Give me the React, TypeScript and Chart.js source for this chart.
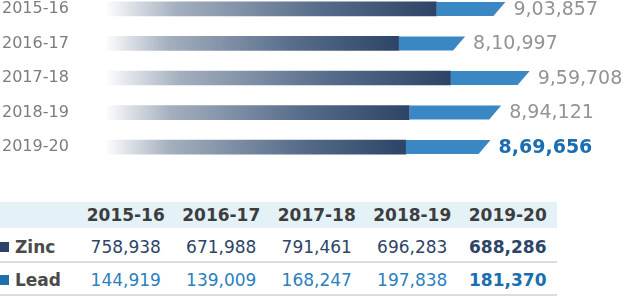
import React, { useEffect, useRef } from "react";
import { Chart, registerables } from "chart.js";

Chart.register(...registerables);

const categories = ["2015-16", "2016-17", "2017-18", "2018-19", "2019-20"];
const zincValues = [758938, 671988, 791461, 696283, 688286];
const leadValues = [144919, 139009, 168247, 197838, 181370];
const totalLabels = ["9,03,857", "8,10,997", "9,59,708", "8,94,121", "8,69,656"];
const zincLabels = ["758,938", "671,988", "791,461", "696,283", "688,286"];
const leadLabels = ["144,919", "139,009", "168,247", "197,838", "181,370"];

const FONT = "'DejaVu Sans', 'Noto Sans', sans-serif";
const ZINC_DARK = "#2e4466";
const LEAD_BLUE = "#3a87c4";
const HILITE_BLUE = "#1a6db0";

const leadShapePlugin = {
  id: "leadShape",
  afterDatasetsDraw(chart: any) {
    const ctx = chart.ctx;
    const meta = chart.getDatasetMeta(1);
    const slant = 6;
    meta.data.forEach((el: any, i: number) => {
      const p = el.getProps(["x", "y", "base", "height"], true);
      const top = p.y - p.height / 2;
      const bottom = p.y + p.height / 2;
      ctx.save();
      ctx.fillStyle = LEAD_BLUE;
      ctx.beginPath();
      ctx.moveTo(p.base, top);
      ctx.lineTo(p.x + slant, top);
      ctx.lineTo(p.x - slant, bottom);
      ctx.lineTo(p.base, bottom);
      ctx.closePath();
      ctx.fill();
      const last = i === totalLabels.length - 1;
      ctx.font = (last ? "bold " : "") + "19px " + FONT;
      ctx.fillStyle = last ? HILITE_BLUE : "#939393";
      ctx.textAlign = "left";
      ctx.textBaseline = "middle";
      ctx.fillText(totalLabels[i], p.x + slant + 8, p.y + 1);
      ctx.restore();
    });
  },
};

function BarChart() {
  const ref = useRef<HTMLCanvasElement | null>(null);
  useEffect(() => {
    if (!ref.current) return;
    const chart = new Chart(ref.current, {
      type: "bar",
      data: {
        labels: categories,
        datasets: [
          {
            label: "Zinc",
            data: zincValues,
            barThickness: 14,
            borderWidth: 0,
            backgroundColor: (c: any) => {
              const ch = c.chart;
              const area = ch.chartArea;
              const xs = ch.scales && ch.scales.x;
              if (!area || !xs || c.raw === undefined) return ZINC_DARK;
              const x0 = area.left - 3;
              const x1 = xs.getPixelForValue(c.raw);
              const g = ch.ctx.createLinearGradient(x0, 0, x1, 0);
              g.addColorStop(0, "rgba(255,255,255,1)");
              g.addColorStop(0.22, "#a3afbe");
              g.addColorStop(0.65, "#566c8a");
              g.addColorStop(1, ZINC_DARK);
              return g;
            },
          },
          {
            label: "Lead",
            data: leadValues,
            barThickness: 14,
            borderWidth: 0,
            backgroundColor: "rgba(0,0,0,0)",
          },
        ],
      },
      options: {
        animation: false,
        responsive: false,
        maintainAspectRatio: false,
        indexAxis: "y",
        layout: { padding: { left: 2, right: 0, top: 0, bottom: 0 } },
        plugins: { legend: { display: false }, tooltip: { enabled: false } },
        scales: {
          x: { stacked: true, min: 0, max: 1200000, display: false },
          y: {
            stacked: true,
            grid: { display: false },
            border: { display: false },
            ticks: {
              crossAlign: "far",
              color: "#7c7c7c",
              font: { family: FONT, size: 16 },
              padding: 0,
            },
            afterFit: (s: any) => {
              s.width = 105;
            },
          },
        },
      },
      plugins: [leadShapePlugin],
    } as any);
    return () => chart.destroy();
  }, []);
  return <canvas ref={ref} width={628} height={192} style={{ display: "block" }} />;
}

const colLeft = 78;
const colW = 95.5;

function Table() {
  const cell = (text: string, i: number, top: number, style: React.CSSProperties) => (
    <div
      key={text + i + top}
      style={{
        position: "absolute",
        left: colLeft + i * colW,
        width: colW,
        top,
        height: 26,
        lineHeight: "26px",
        textAlign: "center",
        ...style,
      }}
    >
      {text}
    </div>
  );
  return (
    <div style={{ position: "absolute", left: 0, top: 0, width: 628, height: 303, fontFamily: FONT }}>
      <div style={{ position: "absolute", left: 0, top: 202, width: 557, height: 26, background: "#e4f2f8" }} />
      {categories.map((c, i) => cell(c, i, 202, { fontWeight: 700, fontSize: 17, color: "#3d3d3d" }))}
      <div style={{ position: "absolute", left: 0, top: 242, width: 9, height: 10, background: ZINC_DARK }} />
      <div style={{ position: "absolute", left: 15, top: 234, height: 26, lineHeight: "26px", fontSize: 17, fontWeight: 600, color: "#4a4a4a" }}>Zinc</div>
      {zincLabels.map((v, i) =>
        cell(v, i, 234, { fontSize: 17, color: ZINC_DARK, fontWeight: i === 4 ? 700 : 400 })
      )}
      <div style={{ position: "absolute", left: 0, top: 261, width: 557, height: 2, background: "#dcdcdc" }} />
      <div style={{ position: "absolute", left: 0, top: 275, width: 9, height: 10, background: "#1f6fae" }} />
      <div style={{ position: "absolute", left: 15, top: 267, height: 26, lineHeight: "26px", fontSize: 17, fontWeight: 600, color: "#4a4a4a" }}>Lead</div>
      {leadLabels.map((v, i) =>
        cell(v, i, 267, { fontSize: 17, color: i === 4 ? HILITE_BLUE : "#2b7fc0", fontWeight: i === 4 ? 700 : 400 })
      )}
      <div style={{ position: "absolute", left: 0, top: 294, width: 557, height: 2, background: "#dcdcdc" }} />
    </div>
  );
}

export default function App() {
  return (
    <div style={{ position: "fixed", left: 0, top: 0, width: 628, height: 303, background: "#fff", overflow: "hidden" }}>
      <Table />
      <div style={{ position: "absolute", left: 0, top: -18, width: 628, height: 192 }}>
        <BarChart />
      </div>
    </div>
  );
}
